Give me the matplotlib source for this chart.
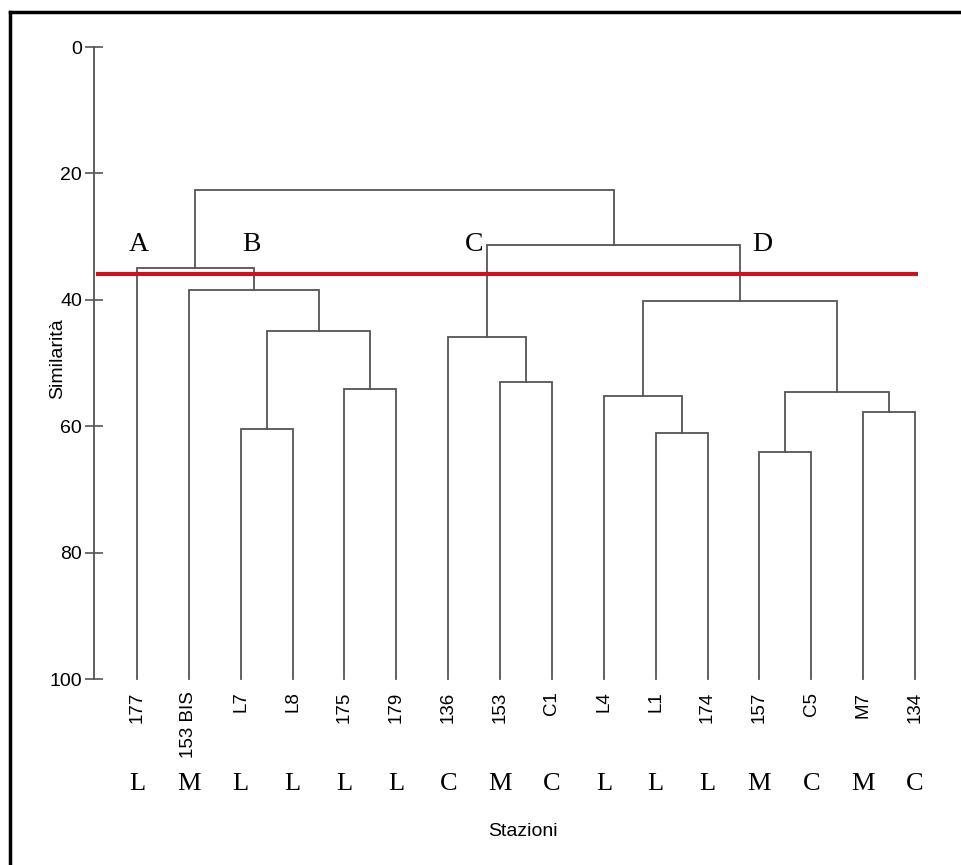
import matplotlib
matplotlib.use('Agg')
import matplotlib.pyplot as plt
from matplotlib.lines import Line2D

# stazioni (ordine delle foglie) e tipo
stazioni = ['177', '153 BIS', 'L7', 'L8', '175', '179', '136', '153', 'C1',
            'L4', 'L1', '174', '157', 'C5', 'M7', '134']
tipo = ['L', 'M', 'L', 'L', 'L', 'L', 'C', 'M', 'C', 'L', 'L', 'L', 'M', 'C', 'M', 'C']

# fusioni: (nodo sinistro, nodo destro, similarita) - nodi 0..15 sono le foglie
fusioni = [
    (2, 3, 60.4),    # 16
    (4, 5, 54.1),    # 17
    (16, 17, 44.9),  # 18
    (1, 18, 38.4),   # 19
    (0, 19, 35.0),   # 20
    (7, 8, 53.0),    # 21
    (6, 21, 45.9),   # 22
    (10, 11, 61.0),  # 23
    (9, 23, 55.2),   # 24
    (12, 13, 64.1),  # 25
    (14, 15, 57.8),  # 26
    (25, 26, 54.6),  # 27
    (24, 27, 40.2),  # 28
    (22, 28, 31.3),  # 29
    (20, 29, 22.6),  # 30
]
soglia = 35.9

gruppi = ['A', 'B', 'C', 'D']
gruppi_x = [0.04, 2.2, 6.5, 12.05]
gruppi_y = 31.3

col = '#555555'
serif = ['Liberation Serif', 'DejaVu Serif']
sans = ['Liberation Sans', 'DejaVu Sans']

fig = plt.figure(figsize=(9.61, 8.65), dpi=100)
ax = fig.add_axes([94 / 961, 1 - 679 / 865, (935 - 94) / 961, 632 / 865])

# posizioni dei nodi
xs = {i: float(i) for i in range(len(stazioni))}
hs = {i: 100.0 for i in range(len(stazioni))}
for k, (a, b, h) in enumerate(fusioni):
    n = len(stazioni) + k
    ax.plot([xs[a], xs[a], xs[b], xs[b]], [hs[a], h, h, hs[b]],
            color=col, lw=1.3, clip_on=False, solid_joinstyle='miter')
    xs[n] = (xs[a] + xs[b]) / 2
    hs[n] = h

ax.plot([-0.79, 15.06], [soglia, soglia], color='#c4161c', lw=3, solid_capstyle='butt')

for g, gx in zip(gruppi, gruppi_x):
    ax.text(gx, gruppi_y, g, family=serif, fontsize=20, ha='center', va='center')

ax.set_xlim(-0.829, 15.386)
ax.set_ylim(100, 0)
ax.set_yticks([0, 20, 40, 60, 80, 100])
ax.tick_params(axis='y', direction='inout', length=13, width=1.2, color=col,
               labelsize=14, pad=2)
for t in ax.get_yticklabels():
    t.set_family(sans)
ax.set_xticks(range(len(stazioni)))
ax.set_xticklabels(stazioni, rotation=90, family=sans, fontsize=13.5, va='top')
ax.tick_params(axis='x', length=0, pad=9)
for s in ['top', 'right', 'bottom']:
    ax.spines[s].set_visible(False)
ax.spines['left'].set_color(col)
ax.spines['left'].set_linewidth(1.3)
ax.spines['left'].set_bounds(0, 100)

tr = ax.get_xaxis_transform()
for i, t in enumerate(tipo):
    ax.text(i, -0.166, t, transform=tr, family=serif, fontsize=19, ha='center', va='center')

ax.text(7.45, -0.242, 'Stazioni', transform=tr, family=sans, fontsize=14,
        ha='center', va='center')
fig.text(58 / 961, 1 - 359 / 865, 'Similarità', family=sans, fontsize=14,
         rotation=90, ha='center', va='center')

# cornice
fig.add_artist(Line2D([10 / 961, 10 / 961], [0, 1 - 12 / 865], color='black', lw=2.5))
fig.add_artist(Line2D([10 / 961, 1], [1 - 12 / 865, 1 - 12 / 865], color='black', lw=2.5))

fig.savefig('out.png', dpi=100)
